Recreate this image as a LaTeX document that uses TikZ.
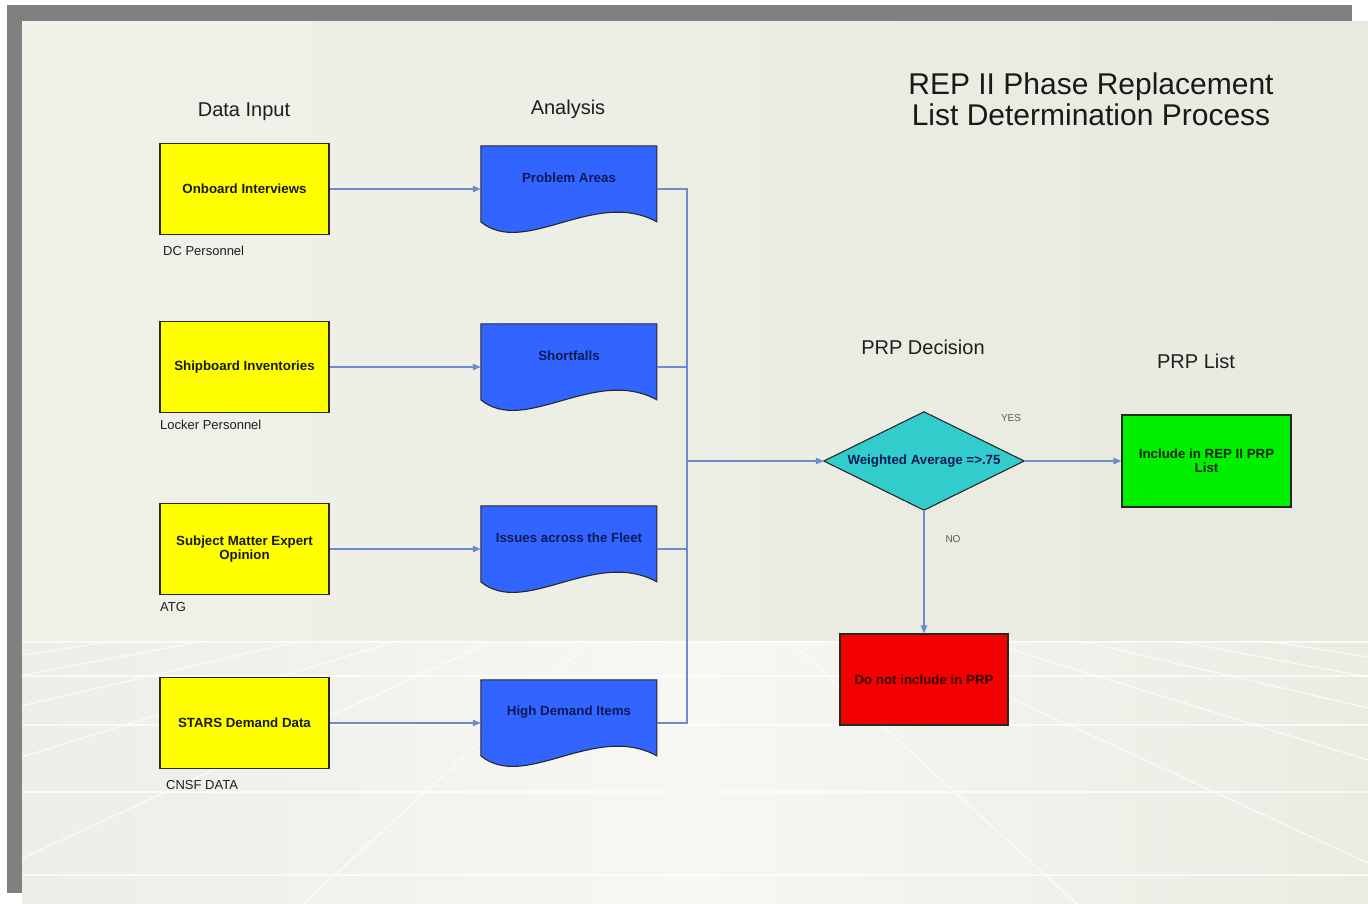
\documentclass[tikz,border=0pt]{standalone}
\usepackage{fontspec}
\setmainfont{Liberation Sans}
\usetikzlibrary{arrows.meta,calc}
\definecolor{framegray}{RGB}{128,128,128}
\definecolor{bgA}{RGB}{241,241,234}
\definecolor{bgB}{RGB}{231,234,222}
\definecolor{flA}{RGB}{237,238,231}
\definecolor{flB}{RGB}{247,247,244}
\definecolor{flC}{RGB}{234,236,226}
\definecolor{myyellow}{RGB}{255,255,0}
\definecolor{myblue}{RGB}{50,100,255}
\definecolor{mycyan}{RGB}{51,204,204}
\definecolor{mygreen}{RGB}{0,240,0}
\definecolor{myred}{RGB}{245,0,0}
\definecolor{boxline}{RGB}{40,40,40}
\definecolor{connc}{RGB}{110,140,205}
\definecolor{navytext}{RGB}{15,25,85}
\definecolor{headtext}{RGB}{30,30,30}
\newcommand\myboxfont{\fontsize{13.3}{14}\selectfont\bfseries}
\newcommand\myheadfont{\fontsize{20}{22}\selectfont}
\newcommand\mysubfont{\fontsize{13}{15}\selectfont}
\newcommand\mytitlefont{\fontsize{30}{31}\selectfont}
\newcommand\mydocshape[1]{%
  \begin{scope}[shift={(#1.north west)}]
    \draw[docstyle] (0,0) -- (176,0) -- (176,76) .. controls (114,42) and (44,112) .. (0,76) -- cycle;
  \end{scope}}
\tikzset{
  boxbase/.style={draw=boxline, line width=1.1pt, inner sep=0pt, font=\myboxfont, align=center},
  ybox/.style={boxbase, fill=myyellow, minimum width=169pt, minimum height=91pt, text=black!90},
  gbox/.style={boxbase, fill=mygreen, minimum width=169pt, minimum height=92pt, text=black!85!green},
  rbox/.style={boxbase, fill=myred, minimum width=168pt, minimum height=91pt, text=black!80!red},
  docnode/.style={inner sep=0pt, minimum width=176pt, minimum height=86pt},
  docstyle/.style={draw=boxline, line width=1.1pt, fill=myblue},
  doctext/.style={font=\myboxfont, text=navytext, inner sep=0pt},
  diamstyle/.style={draw=boxline, line width=1.1pt, fill=mycyan},
  heading/.style={font=\myheadfont, text=headtext, inner sep=0pt},
  sublabel/.style={font=\mysubfont, text=headtext, inner sep=0pt, anchor=west},
  yn/.style={font=\fontsize{10}{12}\selectfont, text=black!65, inner sep=0pt},
  conn/.style={draw=connc, line width=1.2pt},
  arr/.style={-{Triangle[length=8pt,width=6.5pt]}},
  floorline/.style={draw=white, line width=1.3pt, opacity=0.7}
}
\begin{document}
\begin{tikzpicture}[x=1pt,y=-1pt]
\useasboundingbox (0,0) rectangle (1368,903);
% page and frame
\fill[white] (0,0) rectangle (1368,903);
\fill[framegray] (7,5) rectangle (1352,21);
\fill[framegray] (7,5) rectangle (22,893);
% upper background
\shade[left color=bgA, right color=bgB] (22,21) rectangle (1368,641);
% floor
\shade[left color=flA, right color=flC, middle color=flB] (22,641) rectangle (1368,903);
\begin{scope}
  \clip (22,641) rectangle (1368,903);
  \foreach \yy in {642,676,725,792,875} \draw[floorline] (22,\yy) -- (1368,\yy);
  \foreach \yy in {657,677,708,760,863} {
    \draw[floorline] (690,550) -- (1368,\yy);
    \draw[floorline] (690,550) -- (12,\yy);
  }
  \draw[floorline] (690,550) -- (1100,925);
  \draw[floorline] (690,550) -- (280,925);
\end{scope}
% title and headings
\node[font=\mytitlefont, text=black!90, align=center, inner sep=0pt] (title) at (1091,99) {REP II Phase Replacement\\List Determination Process};
\node[heading] (hin) at (244,112) {Data Input};
\node[heading] (han) at (568,109) {Analysis};
\node[heading] (hdec) at (923,347) {PRP Decision};
\node[heading] (hlist) at (1196,361) {PRP List};
% data input boxes
\node[ybox] (y1) at (244.5,189) {Onboard Interviews};
\node[ybox] (y2) at (244.5,367) {Shipboard Inventories};
\node[ybox] (y3) at (244.5,549) {Subject Matter Expert\\Opinion};
\node[ybox] (y4) at (244.5,723) {STARS Demand Data};
\node[sublabel] (s1) at (163,251) {DC Personnel};
\node[sublabel] (s2) at (160,425) {Locker Personnel};
\node[sublabel] (s3) at (160,607) {ATG};
\node[sublabel] (s4) at (166,785) {CNSF DATA};
% analysis documents
\node[docnode] (d1) at (569,189) {};
\node[docnode] (d2) at (569,367) {};
\node[docnode] (d3) at (569,549) {};
\node[docnode] (d4) at (569,723) {};
\mydocshape{d1}
\mydocshape{d2}
\mydocshape{d3}
\mydocshape{d4}
\node[doctext] (t1) at ([yshift=-32pt]d1.north) {Problem Areas};
\node[doctext] (t2) at ([yshift=-32pt]d2.north) {Shortfalls};
\node[doctext] (t3) at ([yshift=-32pt]d3.north) {Issues across the Fleet};
\node[doctext] (t4) at ([yshift=-32pt]d4.north) {High Demand Items};
% decision
\node[inner sep=0pt, minimum width=200pt, minimum height=98pt] (dec) at (924,461) {};
\draw[diamstyle] (dec.west) -- (dec.north) -- (dec.east) -- (dec.south) -- cycle;
\node[font=\myboxfont, text=navytext, inner sep=0pt] (dect) at (dec.center) {Weighted Average =>.75};
\node[gbox] (g) at (1206.5,461) {Include in REP II PRP\\List};
\node[rbox] (r) at (924,679.5) {Do not include in PRP};
\node[yn] (yes) at (1011,418) {YES};
\node[yn] (no) at (953,539) {NO};
% connectors
\draw[conn,arr] (y1) -- (d1);
\draw[conn,arr] (y2) -- (d2);
\draw[conn,arr] (y3) -- (d3);
\draw[conn,arr] (y4) -- (d4);
\coordinate (bus) at (687,461);
\draw[conn] (d1.east) -- (d1.east -| bus) -- (d4.east -| bus) -- (d4.east);
\draw[conn] (d2.east) -- (d2.east -| bus);
\draw[conn] (d3.east) -- (d3.east -| bus);
\draw[conn,arr] (bus) -- (dec.west);
\draw[conn,arr] (dec.east) -- (g.west);
\draw[conn,arr] (dec.south) -- (r.north);
\end{tikzpicture}
\end{document}
